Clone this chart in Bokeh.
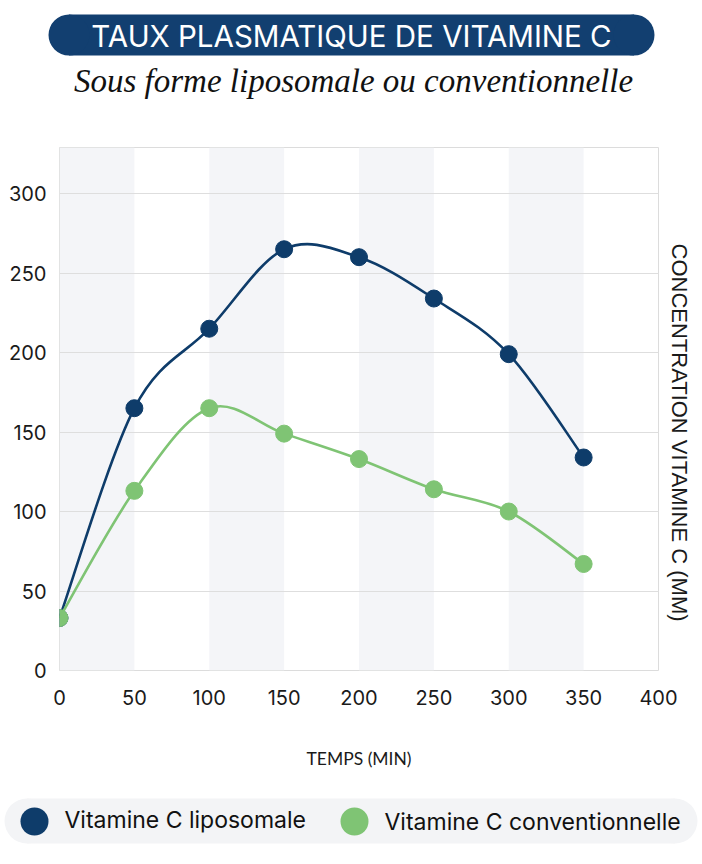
import numpy as np
from bokeh.plotting import figure
from bokeh.layouts import column
from bokeh.models import Range1d, BoxAnnotation, FixedTicker, Title
from bokeh.core.properties import value
from bokeh.embed import file_html
from bokeh.resources import INLINE

# ---------------- data ----------------
TITLE = "TAUX PLASMATIQUE DE VITAMINE C"
SUBTITLE = "Sous forme liposomale ou conventionnelle"
X_LABEL = "TEMPS (MIN)"
Y_LABEL = "CONCENTRATION VITAMINE C (MM)"
series_names = ["Vitamine C liposomale", "Vitamine C conventionnelle"]
series_colors = ["#0e3c6a", "#7fc474"]
time_min = [0, 50, 100, 150, 200, 250, 300, 350]
liposomale = [33, 165, 215, 265, 260, 234, 199, 134]
conventionnelle = [33, 113, 165, 149, 133, 114, 100, 67]
x_ticks = [0, 50, 100, 150, 200, 250, 300, 350, 400]
y_ticks = [0, 50, 100, 150, 200, 250, 300]
band_starts = [0, 100, 200, 300]
band_width = 50

FONT = "Inter"
W = 702


def catmull_segments(xs, ys):
    xs = np.asarray(xs, float)
    ys = np.asarray(ys, float)
    n = len(xs)
    x0, y0, x1, y1, cx0, cy0, cx1, cy1 = ([] for _ in range(8))
    for i in range(n - 1):
        a = max(i - 1, 0)
        d = min(i + 2, n - 1)
        x0.append(xs[i]); y0.append(ys[i])
        x1.append(xs[i + 1]); y1.append(ys[i + 1])
        cx0.append(xs[i] + (xs[i + 1] - xs[a]) / 6)
        cy0.append(ys[i] + (ys[i + 1] - ys[a]) / 6)
        cx1.append(xs[i + 1] - (xs[d] - xs[i]) / 6)
        cy1.append(ys[i + 1] - (ys[d] - ys[i]) / 6)
    return dict(x0=x0, y0=y0, x1=x1, y1=y1, cx0=cx0, cy0=cy0, cx1=cx1, cy1=cy1)


def blank(fig):
    fig.axis.visible = False
    fig.grid.visible = False
    fig.outline_line_color = None
    fig.background_fill_color = "white"
    fig.border_fill_color = "white"


# ---------------- title ----------------
TH = 128
tf = figure(width=W, height=TH, x_range=Range1d(0, W), y_range=Range1d(TH, 0),
            output_backend="svg", toolbar_location=None, min_border=0, frame_align=False)
blank(tf)
pill_l, pill_r, pill_t, pill_b = 48, 654, 14, 55
r = (pill_b - pill_t) / 2
navy_title = "#123f70"
tf.rect(x=[(pill_l + pill_r) / 2], y=[(pill_t + pill_b) / 2], width=[pill_r - pill_l - 2 * r],
        height=[pill_b - pill_t], fill_color=navy_title, line_color=None)
tf.circle(x=[pill_l + r, pill_r - r], y=[(pill_t + pill_b) / 2] * 2, radius=r,
          fill_color=navy_title, line_color=None)
tf.text(x=[(pill_l + pill_r) / 2], y=[(pill_t + pill_b) / 2 + 1], text=[TITLE],
        text_align="center", text_baseline="middle", text_color="white",
        text_font=value(FONT), text_font_size="29.5px")
tf.text(x=[353], y=[80], text=[SUBTITLE], text_align="center", text_baseline="middle",
        text_color="#111111", text_font=value("Liberation Serif"), text_font_style="italic",
        text_font_size="33px")

# ---------------- main chart ----------------
p = figure(width=W, height=662, x_range=Range1d(0, 400), y_range=Range1d(0, 329),
           output_backend="svg", toolbar_location=None, frame_align=False,
           min_border_left=59, min_border_right=42, min_border_top=19, min_border_bottom=120)
p.background_fill_color = "white"
p.border_fill_color = "white"
p.outline_line_color = "#dcdcdc"
p.outline_line_width = 1

for s in band_starts:
    p.add_layout(BoxAnnotation(left=s, right=s + band_width, fill_color="#f4f5f8",
                               fill_alpha=1.0, line_color=None, level="image"))

p.xgrid.visible = False
p.ygrid.grid_line_color = "#dedede"
p.ygrid.grid_line_width = 1
p.xaxis.ticker = FixedTicker(ticks=x_ticks)
p.yaxis.ticker = FixedTicker(ticks=y_ticks)
for ax in (p.xaxis[0], p.yaxis[0]):
    ax.axis_line_color = None
    ax.major_tick_line_color = None
    ax.minor_tick_line_color = None
    ax.major_tick_out = 0
    ax.minor_tick_out = 0
    ax.major_label_text_font = FONT
    ax.major_label_text_font_size = "20px"
    ax.major_label_text_color = "#1a1a1a"
p.xaxis.major_label_standoff = 19
p.yaxis.major_label_standoff = 13
p.xaxis.axis_label = X_LABEL
p.xaxis.axis_label_text_font = "Lato"
p.xaxis.axis_label_text_font_size = "17.5px"
p.xaxis.axis_label_text_font_style = "normal"
p.xaxis.axis_label_text_color = "#1a1a1a"
p.xaxis.axis_label_standoff = 40

p.add_layout(Title(text=Y_LABEL, align="left", offset=96, standoff=17,
                   text_font="Liberation Sans", text_font_size="22px",
                   text_font_style="normal", text_color="#1a1a1a"), "right")

for ys, col in ((liposomale, series_colors[0]), (conventionnelle, series_colors[1])):
    seg = catmull_segments(time_min, ys)
    p.bezier(line_color=col, line_width=2.6, **seg)
    p.scatter(x=time_min, y=ys, size=17, fill_color=col, line_color=col)

# ---------------- legend ----------------
LH = 74
lf = figure(width=W, height=LH, x_range=Range1d(0, W), y_range=Range1d(LH, 0),
            output_backend="svg", toolbar_location=None, min_border=0, frame_align=False)
blank(lf)
box_l, box_r, box_t, box_b = 4, 697, 8, 53
br = (box_b - box_t) / 2
lf.rect(x=[(box_l + box_r) / 2], y=[(box_t + box_b) / 2], width=[box_r - box_l - 2 * br],
        height=[box_b - box_t], fill_color="#f3f4f6", line_color=None)
lf.circle(x=[box_l + br, box_r - br], y=[(box_t + box_b) / 2] * 2, radius=br,
          fill_color="#f3f4f6", line_color=None)
mk_x = [34, 354]
txt_x = [64, 384]
lf.scatter(x=mk_x, y=[31, 31], size=28, fill_color=series_colors, line_color=None)
lf.text(x=txt_x, y=[29, 31], text=series_names, text_align="left", text_baseline="middle",
        text_color="#111111", text_font=value(FONT), text_font_size="23px")

layout = column(tf, p, lf)
open("out.html", "w").write(file_html(layout, INLINE))
